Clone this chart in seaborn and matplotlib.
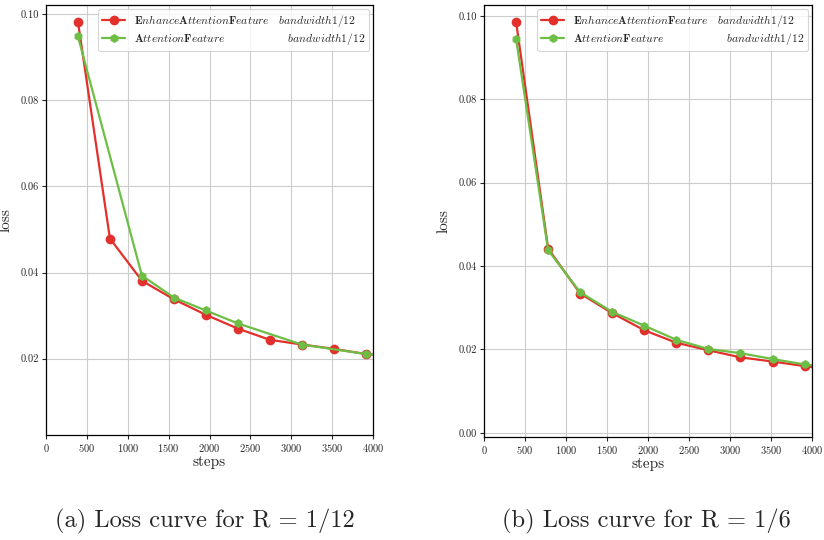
import matplotlib
matplotlib.use("Agg")
import matplotlib.pyplot as plt
import seaborn as sns
import pandas as pd

# ---- data ----
steps_full = [391, 782, 1173, 1564, 1955, 2346, 2737, 3128, 3519, 3910, 4301]

# (a) R = 1/12
a_red_steps = [391, 782, 1173, 1564, 1955, 2346, 2737, 3128, 3519, 3910, 4301]
a_red_loss = [0.0982, 0.0479, 0.0381, 0.0338, 0.0302, 0.0270, 0.0244, 0.0233, 0.0223, 0.0211, 0.0204]
a_green_steps = [391, 1173, 1564, 1955, 2346, 3128, 3910, 4301]
a_green_loss = [0.0948, 0.0393, 0.0342, 0.0312, 0.0282, 0.0233, 0.0211, 0.0205]

# (b) R = 1/6
b_red_loss = [0.0986, 0.0442, 0.0334, 0.0287, 0.0246, 0.0216, 0.0198, 0.0181, 0.0171, 0.0160, 0.0150]
b_green_loss = [0.0945, 0.0438, 0.0337, 0.0290, 0.0257, 0.0223, 0.0201, 0.0191, 0.0177, 0.0164, 0.0156]

label_red = r"$\mathbf{E}nhance\mathbf{A}ttention\mathbf{F}eature\quad bandwidth1/12$"
label_green = r"$\mathbf{A}ttention\mathbf{F}eature\qquad\qquad\qquad\ bandwidth1/12$"
captions = ["(a) Loss curve for R = 1/12", "(b) Loss curve for R = 1/6"]
xticks = [0, 500, 1000, 1500, 2000, 2500, 3000, 3500, 4000]

RED = "#e2302c"
GREEN = "#6cbf44"

sns.set_style("ticks")
plt.rcParams["font.family"] = "serif"
plt.rcParams["font.serif"] = ["cmr10"]
plt.rcParams["mathtext.fontset"] = "cm"
plt.rcParams["axes.formatter.use_mathtext"] = True
plt.rcParams["axes.unicode_minus"] = False

fig = plt.figure(figsize=(8.24, 5.4), dpi=100)
W, H = 824, 540
ax1 = fig.add_axes([46 / W, (H - 435) / H, 327 / W, 430 / H])
ax2 = fig.add_axes([484 / W, (H - 437) / H, 328 / W, 432 / H])

def draw(ax, rs, ry, gs, gy, ylim, yticks):
    sns.lineplot(x=rs, y=ry, ax=ax, color=RED, marker="o", markersize=7,
                 markeredgewidth=0, linewidth=1.6, label=label_red)
    sns.lineplot(x=gs, y=gy, ax=ax, color=GREEN, marker="h", markersize=6.5,
                 markeredgewidth=0, linewidth=1.6, label=label_green)
    ax.set_xlim(0, 4000)
    ax.set_ylim(*ylim)
    ax.set_xticks(xticks)
    ax.set_yticks(yticks)
    ax.set_yticklabels([f"{v:.2f}" for v in yticks])
    ax.grid(True, color="#cccccc", linewidth=0.8)
    ax.set_axisbelow(True)
    for s in ax.spines.values():
        s.set_color("black")
        s.set_linewidth(0.9)
    ax.tick_params(axis="both", labelsize=7.5, length=3, width=0.8, direction="out", pad=2)
    ax.set_xlabel("steps", fontsize=11, labelpad=1)
    ax.set_ylabel("loss", fontsize=11, labelpad=6)
    leg = ax.legend(loc="upper right", fontsize=8.3, frameon=True, borderaxespad=0.35,
                    handlelength=2.0, handletextpad=0.7, labelspacing=0.2, borderpad=0.35)
    leg.get_frame().set_edgecolor("#cccccc")
    leg.get_frame().set_linewidth(0.8)

draw(ax1, a_red_steps, a_red_loss, a_green_steps, a_green_loss,
     (0.0023, 0.1021), [0.02, 0.04, 0.06, 0.08, 0.10])
draw(ax2, steps_full, b_red_loss, steps_full, b_green_loss,
     (-0.001, 0.1026), [0.00, 0.02, 0.04, 0.06, 0.08, 0.10])

fig.text(205 / W, 1 - 521 / H, captions[0], ha="center", va="center", fontsize=17.6)
fig.text(646 / W, 1 - 521 / H, captions[1], ha="center", va="center", fontsize=17.6)

fig.savefig("out.png", dpi=100)
